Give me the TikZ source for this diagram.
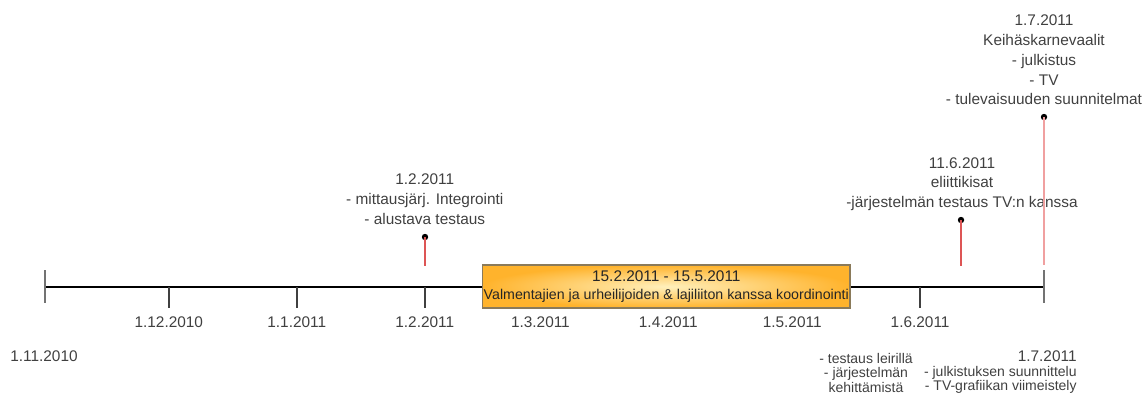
\documentclass[tikz,border=0pt]{standalone}
\usepackage{fontspec}
\setmainfont{Liberation Sans}
\definecolor{txt}{HTML}{404040}
\definecolor{evred}{HTML}{DD5555}
\definecolor{evpink}{HTML}{F0A0A0}
\definecolor{boxin}{HTML}{FFF0BC}
\definecolor{boxout}{HTML}{FFB32C}
\definecolor{boxedge}{HTML}{8A7A5A}
\begin{document}
\begin{tikzpicture}[x=0.5pt,y=-0.5pt,
  lbl/.style={font=\fontsize{7.7}{9.85}\selectfont, text=txt, inner sep=0pt, align=center},
  sublbl/.style={font=\fontsize{7}{7.25}\selectfont, text=txt, inner sep=0pt},
  dot/.style={circle, fill=black, inner sep=0pt, minimum size=3.2pt},
  axisline/.style={line width=1.2pt, black},
  endtick/.style={line width=0.7pt, black!55},
  monthtick/.style={line width=0.75pt, txt},
  stem/.style={line width=0.9pt, evred},
  longstem/.style={line width=1pt, evpink},
  period/.style={draw=boxedge, line width=0.75pt, shading=radial, inner color=boxin, outer color=boxout,
    minimum width=183.7pt, minimum height=21.5pt, inner sep=0pt, align=center, text=black!85,
    font=\fontsize{7.1}{9}\selectfont}
]
\useasboundingbox (0,0) rectangle (1145,398);

% axis
\coordinate (a0) at (45,287);
\coordinate (a1) at (1044,287);
\draw[axisline] (a0) -- (a1);
\coordinate (s0t) at (45,270); \coordinate (s0b) at (45,303);
\coordinate (s1t) at (1044,270); \coordinate (s1b) at (1044,303);
\draw[endtick] (s0t) -- (s0b);
\draw[endtick] (s1t) -- (s1b);

% month ticks
\foreach \x/\n in {168.8/dec,296.8/jan,424.8/feb,920.1/jun}{
  \coordinate (m\n) at (\x,287);
  \coordinate (e\n) at (\x,308);
  \draw[monthtick] (m\n) -- (e\n);
}

% month labels
\node[lbl] (lnov) at (44,356) {1.11.2010};
\node[lbl] (ldec) at (168.8,322) {1.12.2010};
\node[lbl] (ljan) at (296.8,322) {1.1.2011};
\node[lbl] (lfeb) at (424.8,322) {1.2.2011};
\node[lbl] (lmar) at (540.4,322) {1.3.2011};
\node[lbl] (lapr) at (668.3,322) {1.4.2011};
\node[lbl] (lmay) at (792.2,322) {1.5.2011};
\node[lbl] (ljun) at (920.1,322) {1.6.2011};

% period box
\node[period] (per) at (666.3,286.5)
  {{\fontsize{7.7}{9}\selectfont 15.2.2011 - 15.5.2011}\\Valmentajien ja urheilijoiden \& lajiliiton kanssa koordinointi};

% event 1.2.2011
\node[dot] (d1) at (425,237) {};
\coordinate (d1b) at (425,266);
\draw[stem] (d1.center) -- (d1b);
\node[lbl] (t1) at (424.8,199) {1.2.2011\\- mittausjärj. Integrointi\\- alustava testaus};

% event 11.6.2011
\node[dot] (d2) at (961,220) {};
\coordinate (d2b) at (961,266);
\draw[stem] (d2.center) -- (d2b);
\node[lbl] (t2) at (962,184) {11.6.2011\\eliittikisat\\-järjestelmän testaus TV:n kanssa};

% event 1.7.2011
\node[dot] (d3) at (1044,117) {};
\coordinate (d3b) at (1044,265);
\draw[longstem] (d3.center) -- (d3b);
\node[lbl] (t3) at (1044,60) {1.7.2011\\Keihäskarnevaalit\\- julkistus\\- TV\\- tulevaisuuden suunnitelmat};

% bottom notes
\node[sublbl, align=center] (n1) at (866,372.5) {- testaus leirillä\\- järjestelmän\\kehittämistä};
\node[sublbl, align=right, anchor=east] (n2) at (1077,372.5)
  {{\fontsize{7.7}{7.25}\selectfont 1.7.2011}\\- julkistuksen suunnittelu\\- TV-grafiikan viimeistely};
\end{tikzpicture}
\end{document}
